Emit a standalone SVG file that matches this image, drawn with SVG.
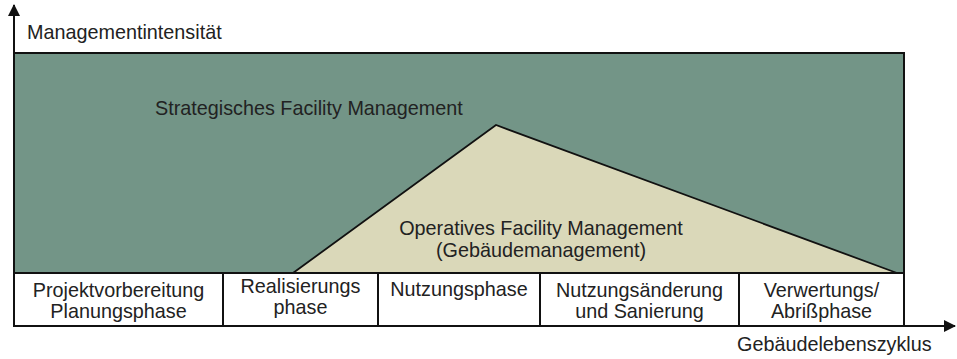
<svg xmlns="http://www.w3.org/2000/svg" width="957" height="359" viewBox="0 0 957 359">
<style>
text{font-family:"Liberation Sans",Arial,sans-serif;font-size:19.8px;fill:#222}
.c{text-anchor:middle}
.ln{stroke:#111;stroke-width:2;fill:none}
</style>
<defs>
<marker id="ah" viewBox="0 0 12 12" refX="11" refY="6" markerWidth="12" markerHeight="12" markerUnits="userSpaceOnUse" orient="auto">
<path d="M0,0 L12,6 L0,12 Z" fill="#111"/>
</marker>
</defs>
<rect x="0" y="0" width="957" height="359" fill="#fff"/>
<g id="strategic">
<rect x="14" y="53" width="890" height="220" fill="#739587" stroke="#111" stroke-width="2"/>
<text x="155" y="115">Strategisches Facility Management</text>
</g>
<g id="operative">
<polygon points="293,273 496,125 897,273" fill="#dad8b9" stroke="#111" stroke-width="1.8" stroke-linejoin="miter"/>
<text class="c" x="541" y="235">Operatives Facility Management</text>
<text class="c" x="541" y="257">(Gebäudemanagement)</text>
</g>
<g id="phases">
<rect x="14" y="273" width="890" height="53" fill="#fff" stroke="#111" stroke-width="2"/>
<g id="p1"><text class="c" x="118.5" y="297">Projektvorbereitung</text><text class="c" x="118.5" y="318">Planungsphase</text></g>
<g id="p2"><line class="ln" x1="223" y1="273" x2="223" y2="326"/><text class="c" x="300.5" y="293">Realisierungs</text><text class="c" x="300.5" y="314">phase</text></g>
<g id="p3"><line class="ln" x1="378" y1="273" x2="378" y2="326"/><text class="c" x="459" y="296">Nutzungsphase</text></g>
<g id="p4"><line class="ln" x1="540" y1="273" x2="540" y2="326"/><text class="c" x="639.5" y="297">Nutzungsänderung</text><text class="c" x="639.5" y="318">und Sanierung</text></g>
<g id="p5"><line class="ln" x1="739" y1="273" x2="739" y2="326"/><text class="c" x="821.5" y="297">Verwertungs/</text><text class="c" x="821.5" y="318">Abrißphase</text></g>
</g>
<g id="connectors">
<line class="ln" x1="14" y1="326" x2="14" y2="5" marker-end="url(#ah)"/>
<line class="ln" x1="14" y1="326" x2="955" y2="326" marker-end="url(#ah)"/>
</g>
<g id="labels">
<text x="27" y="39">Managementintensität</text>
<text x="737" y="351">Gebäudelebenszyklus</text>
</g>
</svg>
